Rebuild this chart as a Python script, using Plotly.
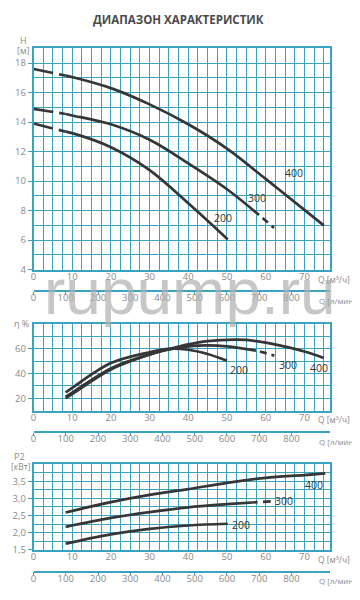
import plotly.graph_objects as go

# ---------------- data (Q in m³/h) ----------------
# Head H [m]
q_h200_dash = [0, 8.3]
h200_dash = [13.9, 13.35]
q_h200 = [8.3, 10, 20, 30, 40, 50.2]
h200 = [13.35, 13.25, 12.3, 10.75, 8.5, 6.05]

q_h300_dash = [0, 8.3]
h300_dash = [14.9, 14.55]
q_h300 = [8.3, 10, 20, 30, 40, 50, 58.3]
h300 = [14.55, 14.45, 13.85, 12.8, 11.2, 9.45, 7.7]
q_h300_end = [59.2, 62.7]
h300_end = [7.5, 6.7]

q_h400_dash = [0, 8.3]
h400_dash = [17.6, 17.15]
q_h400 = [8.3, 10, 20, 30, 40, 50, 60, 70, 75]
h400 = [17.15, 17.05, 16.3, 15.2, 13.85, 12.2, 10.15, 8.05, 7.0]

# Efficiency η [%]
q_e200 = [8.3, 10, 20, 30, 35, 40, 45, 50]
e200 = [24.8, 28.5, 48.5, 57.3, 60, 59.3, 55.8, 50.3]
q_e300 = [8.3, 10, 20, 30, 35, 40, 45, 50, 57.5]
e300 = [21.2, 24.6, 44.2, 55.5, 59.5, 62, 62.8, 62, 58.6]
q_e300_end = [58.5, 62.7]
e300_end = [57.9, 54.1]
q_e400 = [8.3, 10, 20, 30, 35, 40, 45, 52, 55, 60, 65, 70, 75]
e400 = [20.2, 23.5, 43.3, 55.3, 59.8, 63.6, 66.2, 67.5, 67.2, 65, 61.8, 57.8, 52.6]

# Power P2 [kW]
q_p200 = [8.3, 20, 30, 40, 50.2]
p200 = [1.68, 1.95, 2.11, 2.21, 2.26]
q_p300 = [8.3, 20, 30, 40, 50, 57.9]
p300 = [2.17, 2.43, 2.6, 2.74, 2.83, 2.89]
q_p300_end = [59.3, 61.3]
p300_end = [2.9, 2.91]
q_p400 = [8.3, 20, 30, 40, 50, 60, 70, 75.4]
p400 = [2.59, 2.89, 3.1, 3.27, 3.45, 3.6, 3.68, 3.73]

# ticks
q_ticks = [0, 10, 20, 30, 40, 50, 60, 70]
lmin_ticks = [0, 100, 200, 300, 400, 500, 600, 700, 800]
h_ticks = [4, 6, 8, 10, 12, 14, 16, 18]
e_ticks = [20, 40, 60]
p_ticks = [1.5, 2.0, 2.5, 3.0, 3.5]
p_tick_text = ["1,5", "2,0", "2,5", "3,0", "3,5"]

title_text = "ДИАПАЗОН ХАРАКТЕРИСТИК"
watermark = "rupump.ru"

# ---------------- styles ----------------
W, H = 360, 600
GRID = "#3aa3c2"
LBL = "#8a8a8a"
CURVE = "#363636"
FONT = "Open Sans"
QMAX = 76.7
LMIN_PER_Q = 12.0


def px(x):
    return x / W


def py(y):
    return 1 - y / H


xdom = [px(22.7), px(322)]

fig = go.Figure()


def add_line(x, y, xa, ya, dash="solid"):
    fig.add_trace(go.Scatter(x=x, y=y, xaxis=xa, yaxis=ya, mode="lines",
                             line=dict(color=CURVE, width=2.7, dash=dash, shape="spline", smoothing=1.0),
                             hoverinfo="skip", showlegend=False))


dash_start = "20px,6px"
dash_end = "7px,5px,3px,20px"

# top
add_line(q_h200_dash, h200_dash, "x", "y", dash_start)
add_line(q_h200, h200, "x", "y")
add_line(q_h300_dash, h300_dash, "x", "y", dash_start)
add_line(q_h300, h300, "x", "y")
add_line(q_h300_end, h300_end, "x", "y", dash_end)
add_line(q_h400_dash, h400_dash, "x", "y", dash_start)
add_line(q_h400, h400, "x", "y")
# middle
add_line(q_e200, e200, "x2", "y2")
add_line(q_e300, e300, "x2", "y2")
add_line(q_e300_end, e300_end, "x2", "y2", dash_end)
add_line(q_e400, e400, "x2", "y2")
# bottom
add_line(q_p200, p200, "x3", "y3")
add_line(q_p300, p300, "x3", "y3")
add_line(q_p300_end, p300_end, "x3", "y3", "solid")
add_line(q_p400, p400, "x3", "y3")

# invisible traces so the l/min axes get drawn
for xa, ya in (("x4", "y"), ("x5", "y2"), ("x6", "y3")):
    fig.add_trace(go.Scatter(x=[0], y=[None], xaxis=xa, yaxis=ya, mode="lines",
                             showlegend=False, hoverinfo="skip"))

tickfont = dict(family=FONT, size=9.5, color=LBL)


def q_axis(anchor):
    return dict(domain=xdom, range=[0, QMAX], anchor=anchor, tickvals=q_ticks,
                showgrid=True, gridcolor=GRID, gridwidth=1,
                minor=dict(dtick=2.5, tick0=0, showgrid=True, gridcolor=GRID, gridwidth=1),
                showline=True, linecolor=GRID, linewidth=1.5, mirror=True,
                ticks="", tickfont=tickfont, zeroline=False, fixedrange=True,
                ticklabelstandoff=-3)


def lmin_axis(over, ypos):
    return dict(domain=xdom, range=[0, QMAX * LMIN_PER_Q], overlaying=over, anchor="free",
                position=ypos, tickvals=lmin_ticks, showgrid=False, showline=True,
                linecolor=GRID, linewidth=1.5, ticks="outside", ticklen=3, tickcolor=GRID,
                tickfont=tickfont, zeroline=False, side="bottom", fixedrange=True,
                ticklabelstandoff=-5)


def y_axis(anchor, dom, rng, tv, dt, tt=None):
    d = dict(domain=dom, range=rng, anchor=anchor, tickvals=tv,
             showgrid=True, gridcolor=GRID, gridwidth=1,
             minor=dict(dtick=dt, tick0=rng[0], showgrid=True, gridcolor=GRID, gridwidth=1),
             showline=True, linecolor=GRID, linewidth=1.5, mirror=True,
             ticks="outside", ticklen=4, tickcolor=GRID, tickfont=tickfont,
             zeroline=False, fixedrange=True)
    if tt is not None:
        d["ticktext"] = tt
    return d


top_dom = [py(264.3), py(40.7)]
mid_dom = [py(406.8), py(319.3)]
bot_dom = [py(547.3), py(460.7)]

fig.update_layout(
    width=W, height=H, margin=dict(l=0, r=0, t=0, b=0),
    paper_bgcolor="white", plot_bgcolor="white", showlegend=False,
    font=dict(family=FONT, color=LBL),
    xaxis=q_axis("y"), xaxis2=q_axis("y2"), xaxis3=q_axis("y3"),
    xaxis4=lmin_axis("x", py(285.7)), xaxis5=lmin_axis("x2", py(428.3)), xaxis6=lmin_axis("x3", py(569.3)),
    yaxis=y_axis("x", top_dom, [4, 19], h_ticks, 1),
    yaxis2=y_axis("x2", mid_dom, [10, 80], e_ticks, 10),
    yaxis3=y_axis("x3", bot_dom, [1.5, 4.0], p_ticks, 0.25, p_tick_text),
)

ann = []


def pann(text, x, y, size=10, color=LBL, xanchor="center", bold=False, fam=FONT):
    ann.append(dict(text=f"<b>{text}</b>" if bold else text, x=px(x), y=py(y), xref="paper", yref="paper",
                    showarrow=False, xanchor=xanchor, yanchor="middle",
                    font=dict(family=fam, size=size, color=color)))


# watermark
ann.append(dict(text=watermark, x=px(181), y=py(287), xref="paper", yref="paper", showarrow=False,
                xanchor="center", yanchor="middle", opacity=0.7,
                font=dict(family="Liberation Sans", size=64, color="#b0b0b0")))

pann(title_text, 169, 12, size=11.5, color="#4a4a4a", bold=True)
pann("H", 13, 33, size=9)
pann("[м]", 13, 43, size=9)
pann("η %", 11, 319, size=9)
pann("P2", 9, 453, size=9)
pann("[кВт]", 10, 463, size=8.5)

for yq, yl in ((274, 295), (415.7, 437.7), (556.7, 578.3)):
    pann("Q [м³/ч]", 308, yq, size=8.5, xanchor="left")
    pann("Q [л/мин]", 309, yl, size=8, xanchor="left")


def dann(text, x, y, xa, ya):
    ann.append(dict(text=text, x=x, y=y, xref=xa, yref=ya, showarrow=False,
                    xanchor="center", yanchor="middle", font=dict(family=FONT, size=10.5, color=CURVE)))


dann("200", 48.9, 7.52, "x", "y")
dann("300", 57.8, 8.86, "x", "y")
dann("400", 67.3, 10.53, "x", "y")
dann("200", 53, 42.6, "x2", "y2")
dann("300", 65.7, 46.6, "x2", "y2")
dann("400", 73.8, 44.5, "x2", "y2")
dann("200", 53.6, 2.21, "x3", "y3")
dann("300", 64.7, 2.93, "x3", "y3")
dann("400", 72.4, 3.4, "x3", "y3")

fig.update_layout(annotations=ann)

fig.write_html("out.html")
